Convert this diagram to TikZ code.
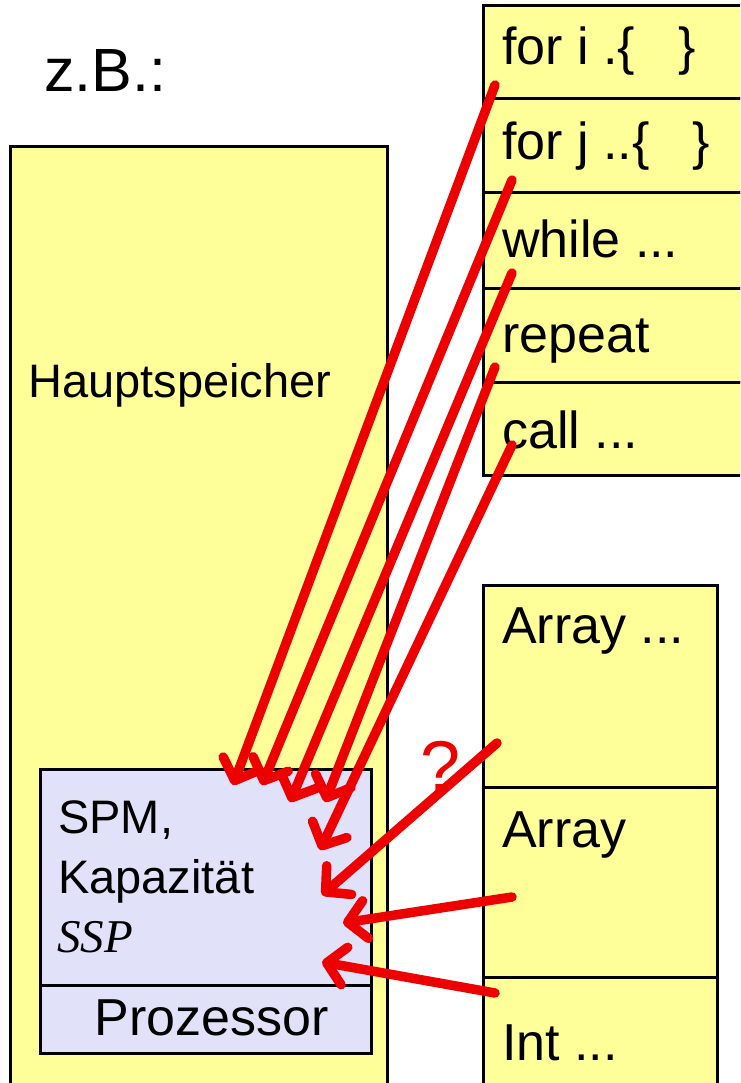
\documentclass[tikz,border=0pt]{standalone}
\usepackage{fontspec}
\setmainfont{Liberation Sans}
\newfontfamily\tnr{Liberation Serif}
\usetikzlibrary{arrows.meta}
\definecolor{memyellow}{RGB}{255,255,153}
\definecolor{spmblue}{RGB}{225,225,250}
\definecolor{arrred}{RGB}{236,0,0}
\begin{document}
\begin{tikzpicture}[x=1pt,y=-1pt,
  box/.style={draw=black,line width=3pt,fill=memyellow,rectangle,anchor=north west,inner sep=0pt,outer sep=0pt},
  spmbox/.style={box,fill=spmblue},
  big/.style={font=\fontsize{52}{60}\selectfont,anchor=base west,inner sep=0pt},
  mid/.style={font=\fontsize{47}{56}\selectfont,anchor=base west,inner sep=0pt},
  redarrow/.style={draw=arrred,line width=9.5pt,line cap=round,
    -{Straight Barb[length=18pt,width=38pt,line width=9.5pt,round]}}]
\useasboundingbox (0,0) rectangle (740,1083);
\clip (0,0) rectangle (740,1083);
% main memory
\node[box,minimum width=377pt,minimum height=953pt] (hs) at (10,147) {};
\node[mid] (hstext) at (28,397) {Hauptspeicher};
% SPM and processor
\node[spmbox,minimum width=331pt,minimum height=216pt] (spm) at (40,769) {};
\node[spmbox,minimum width=331pt,minimum height=68pt] (proc) at (40,985) {};
\node[mid] (t1) at (58,833) {SPM,};
\node[mid] (t2) at (58,893) {Kapazität};
\node[mid,font=\fontsize{47}{56}\selectfont\tnr\itshape] (t3) at (57,952) {SSP};
\node[mid,font=\fontsize{52}{56}\selectfont,anchor=base] (t4) at (212,1035) {Prozessor};
% z.B.
\node[big,font=\fontsize{61}{70}\selectfont] (zb) at (44,92) {z.B.:};
% code blocks
\node[box,minimum width=277pt,minimum height=93pt] (c1) at (483,6) {};
\node[box,minimum width=277pt,minimum height=94pt] (c2) at (483,99) {};
\node[box,minimum width=277pt,minimum height=95pt] (c3) at (483,193) {};
\node[box,minimum width=277pt,minimum height=94pt] (c4) at (483,288) {};
\node[box,minimum width=277pt,minimum height=93pt] (c5) at (483,382) {};
\node[big] (ct1) at (502,65) {for i .\{\ \ \ \}};
\node[big] (ct2) at (502,160) {for j ..\{\ \ \ \}};
\node[big] (ct3) at (502,257) {while ...};
\node[big] (ct4) at (502,352) {repeat};
\node[big] (ct5) at (502,448) {call ...};
% data blocks
\node[box,minimum width=234pt,minimum height=202pt] (d1) at (483,585) {};
\node[box,minimum width=234pt,minimum height=190pt] (d2) at (483,787) {};
\node[box,minimum width=234pt,minimum height=130pt] (d3) at (483,977) {};
\node[big] (dt1) at (502,643) {Array ...};
\node[big] (dt2) at (502,847) {Array};
\node[big] (dt3) at (502,1060) {Int ...};
% question mark
\node[big,font=\fontsize{72}{80}\selectfont,text=arrred] (q) at (420,791) {?};
% arrow endpoints
\coordinate (s1) at (495,85);  \coordinate (e1) at (233,785);
\coordinate (s2) at (512,180); \coordinate (e2) at (262,785);
\coordinate (s3) at (512,273); \coordinate (e3) at (290,802);
\coordinate (s4) at (495,367); \coordinate (e4) at (325,802);
\coordinate (s5) at (512,445); \coordinate (e5) at (320,850);
\coordinate (s6) at (497,743); \coordinate (e6) at (322,895);
\coordinate (s7) at (512,897); \coordinate (e7) at (343,923);
\coordinate (s8) at (495,993); \coordinate (e8) at (322,962);
\foreach \i in {1,...,8} {\draw[redarrow] (s\i) -- (e\i);}
\end{tikzpicture}
\end{document}
